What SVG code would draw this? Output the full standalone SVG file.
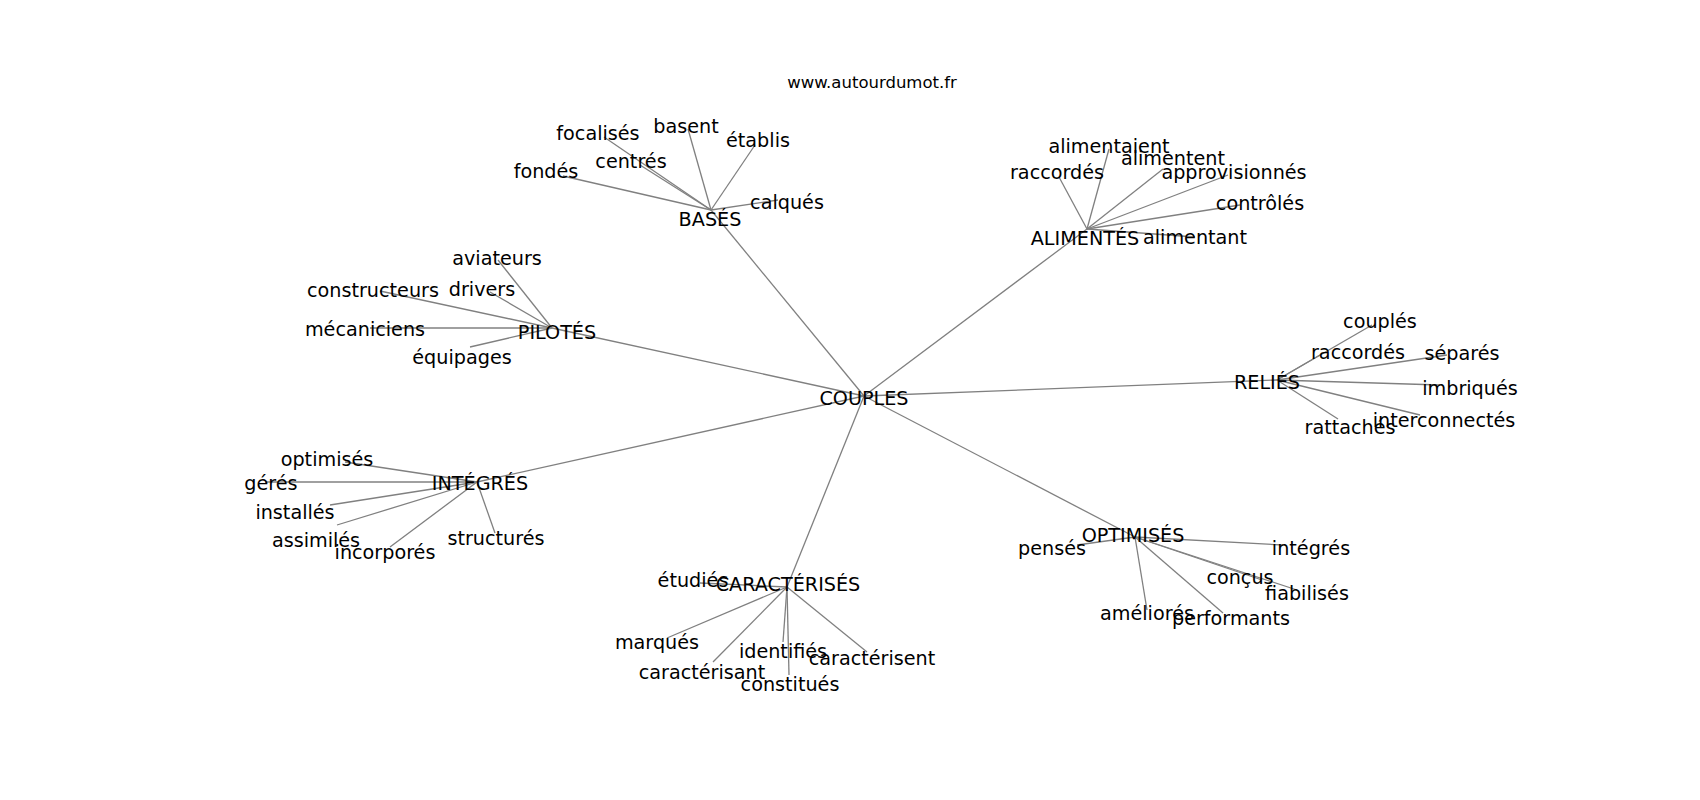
<svg xmlns="http://www.w3.org/2000/svg" width="1700" height="800" viewBox="0 0 1700 800">
<style>
.e{stroke:#808080;stroke-width:1.3;fill:none}
text{font-family:"DejaVu Sans","Liberation Sans",sans-serif;fill:#000;text-anchor:middle}
.n text{font-size:19.2px}
.t{font-size:16.5px}
</style>
<rect width="1700" height="800" fill="#fff"/>
<text class="t" x="872" y="88">www.autourdumot.fr</text>
<g id="edges">
<line class="e" x1="864" y1="396" x2="711" y2="210"/>
<line class="e" x1="864" y1="396" x2="1087" y2="229"/>
<line class="e" x1="864" y1="396" x2="552" y2="328"/>
<line class="e" x1="864" y1="396" x2="1277" y2="380"/>
<line class="e" x1="864" y1="396" x2="477" y2="482"/>
<line class="e" x1="864" y1="396" x2="787" y2="587"/>
<line class="e" x1="864" y1="396" x2="1135" y2="537"/>
<line class="e" x1="711" y1="210" x2="604" y2="137"/>
<line class="e" x1="711" y1="210" x2="688" y2="129"/>
<line class="e" x1="711" y1="210" x2="755" y2="145"/>
<line class="e" x1="711" y1="210" x2="640" y2="165"/>
<line class="e" x1="711" y1="210" x2="563" y2="176"/>
<line class="e" x1="711" y1="210" x2="778" y2="200"/>
<line class="e" x1="1087" y1="229" x2="1059" y2="177"/>
<line class="e" x1="1087" y1="229" x2="1109" y2="149"/>
<line class="e" x1="1087" y1="229" x2="1163" y2="169"/>
<line class="e" x1="1087" y1="229" x2="1228" y2="175"/>
<line class="e" x1="1087" y1="229" x2="1240" y2="205"/>
<line class="e" x1="1087" y1="229" x2="1195" y2="237"/>
<line class="e" x1="552" y1="328" x2="498" y2="260"/>
<line class="e" x1="552" y1="328" x2="380" y2="291"/>
<line class="e" x1="552" y1="328" x2="490" y2="292"/>
<line class="e" x1="552" y1="328" x2="370" y2="328"/>
<line class="e" x1="552" y1="328" x2="470" y2="347"/>
<line class="e" x1="1277" y1="380" x2="1372" y2="325"/>
<line class="e" x1="1277" y1="380" x2="1320" y2="355"/>
<line class="e" x1="1277" y1="380" x2="1447" y2="355"/>
<line class="e" x1="1277" y1="380" x2="1440" y2="385"/>
<line class="e" x1="1277" y1="380" x2="1420" y2="415"/>
<line class="e" x1="1277" y1="380" x2="1338" y2="419"/>
<line class="e" x1="477" y1="482" x2="345" y2="462"/>
<line class="e" x1="477" y1="482" x2="265" y2="482"/>
<line class="e" x1="477" y1="482" x2="330" y2="505"/>
<line class="e" x1="477" y1="482" x2="337" y2="525"/>
<line class="e" x1="477" y1="482" x2="390" y2="547"/>
<line class="e" x1="477" y1="482" x2="495" y2="533"/>
<line class="e" x1="787" y1="587" x2="700" y2="583"/>
<line class="e" x1="787" y1="587" x2="667" y2="638"/>
<line class="e" x1="787" y1="587" x2="713" y2="662"/>
<line class="e" x1="787" y1="587" x2="783" y2="642"/>
<line class="e" x1="787" y1="587" x2="789" y2="675"/>
<line class="e" x1="787" y1="587" x2="867" y2="652"/>
<line class="e" x1="1135" y1="537" x2="1077" y2="545"/>
<line class="e" x1="1135" y1="537" x2="1283" y2="545"/>
<line class="e" x1="1135" y1="537" x2="1262" y2="580"/>
<line class="e" x1="1135" y1="537" x2="1297" y2="590"/>
<line class="e" x1="1135" y1="537" x2="1147" y2="610"/>
<line class="e" x1="1135" y1="537" x2="1223" y2="613"/>
</g>
<g class="n" transform="translate(0,1.5)">
<g id="n-couples"><text x="864" y="403">COUPLES</text></g>
<g id="n-bases"><text x="710" y="224">BASÉS</text></g>
<g id="n-alimentes"><text x="1085" y="243">ALIMENTÉS</text></g>
<g id="n-pilotes"><text x="557" y="337">PILOTÉS</text></g>
<g id="n-relies"><text x="1267" y="387">RELIÉS</text></g>
<g id="n-integres"><text x="480" y="488">INTÉGRÉS</text></g>
<g id="n-caracterises"><text x="788" y="589">CARACTÉRISÉS</text></g>
<g id="n-optimises"><text x="1133" y="540">OPTIMISÉS</text></g>
<g id="n-focalises"><text x="598" y="138">focalisés</text></g>
<g id="n-basent"><text x="686" y="131">basent</text></g>
<g id="n-etablis"><text x="758" y="145">établis</text></g>
<g id="n-centres"><text x="631" y="166">centrés</text></g>
<g id="n-fondes"><text x="546" y="176">fondés</text></g>
<g id="n-calques"><text x="787" y="207">calqués</text></g>
<g id="n-raccordes1"><text x="1057" y="177">raccordés</text></g>
<g id="n-alimentaient"><text x="1109" y="151">alimentaient</text></g>
<g id="n-alimentent"><text x="1173" y="163">alimentent</text></g>
<g id="n-approvisionnes"><text x="1234" y="177">approvisionnés</text></g>
<g id="n-controles"><text x="1260" y="208">contrôlés</text></g>
<g id="n-alimentant"><text x="1195" y="242">alimentant</text></g>
<g id="n-aviateurs"><text x="497" y="263">aviateurs</text></g>
<g id="n-constructeurs"><text x="373" y="295">constructeurs</text></g>
<g id="n-drivers"><text x="482" y="294">drivers</text></g>
<g id="n-mecaniciens"><text x="365" y="334">mécaniciens</text></g>
<g id="n-equipages"><text x="462" y="362">équipages</text></g>
<g id="n-couples2"><text x="1380" y="326">couplés</text></g>
<g id="n-raccordes2"><text x="1358" y="357">raccordés</text></g>
<g id="n-separes"><text x="1462" y="358">séparés</text></g>
<g id="n-imbriques"><text x="1470" y="393">imbriqués</text></g>
<g id="n-interconnectes"><text x="1444" y="425">interconnectés</text></g>
<g id="n-rattaches"><text x="1350" y="432">rattachés</text></g>
<g id="n-optimises2"><text x="327" y="464">optimisés</text></g>
<g id="n-geres"><text x="271" y="488">gérés</text></g>
<g id="n-installes"><text x="295" y="517">installés</text></g>
<g id="n-assimiles"><text x="316" y="545">assimilés</text></g>
<g id="n-incorpores"><text x="385" y="557">incorporés</text></g>
<g id="n-structures"><text x="496" y="543">structurés</text></g>
<g id="n-etudies"><text x="693" y="585">étudiés</text></g>
<g id="n-marques"><text x="657" y="647">marqués</text></g>
<g id="n-caracterisant"><text x="702" y="677">caractérisant</text></g>
<g id="n-identifies"><text x="783" y="656">identifiés</text></g>
<g id="n-constitues"><text x="790" y="689">constitués</text></g>
<g id="n-caracterisent"><text x="872" y="663">caractérisent</text></g>
<g id="n-penses"><text x="1052" y="553">pensés</text></g>
<g id="n-integres2"><text x="1311" y="553">intégrés</text></g>
<g id="n-concus"><text x="1240" y="582">conçus</text></g>
<g id="n-fiabilises"><text x="1307" y="598">fiabilisés</text></g>
<g id="n-ameliores"><text x="1147" y="618">améliorés</text></g>
<g id="n-performants"><text x="1231" y="623">performants</text></g>
</g>
</svg>
